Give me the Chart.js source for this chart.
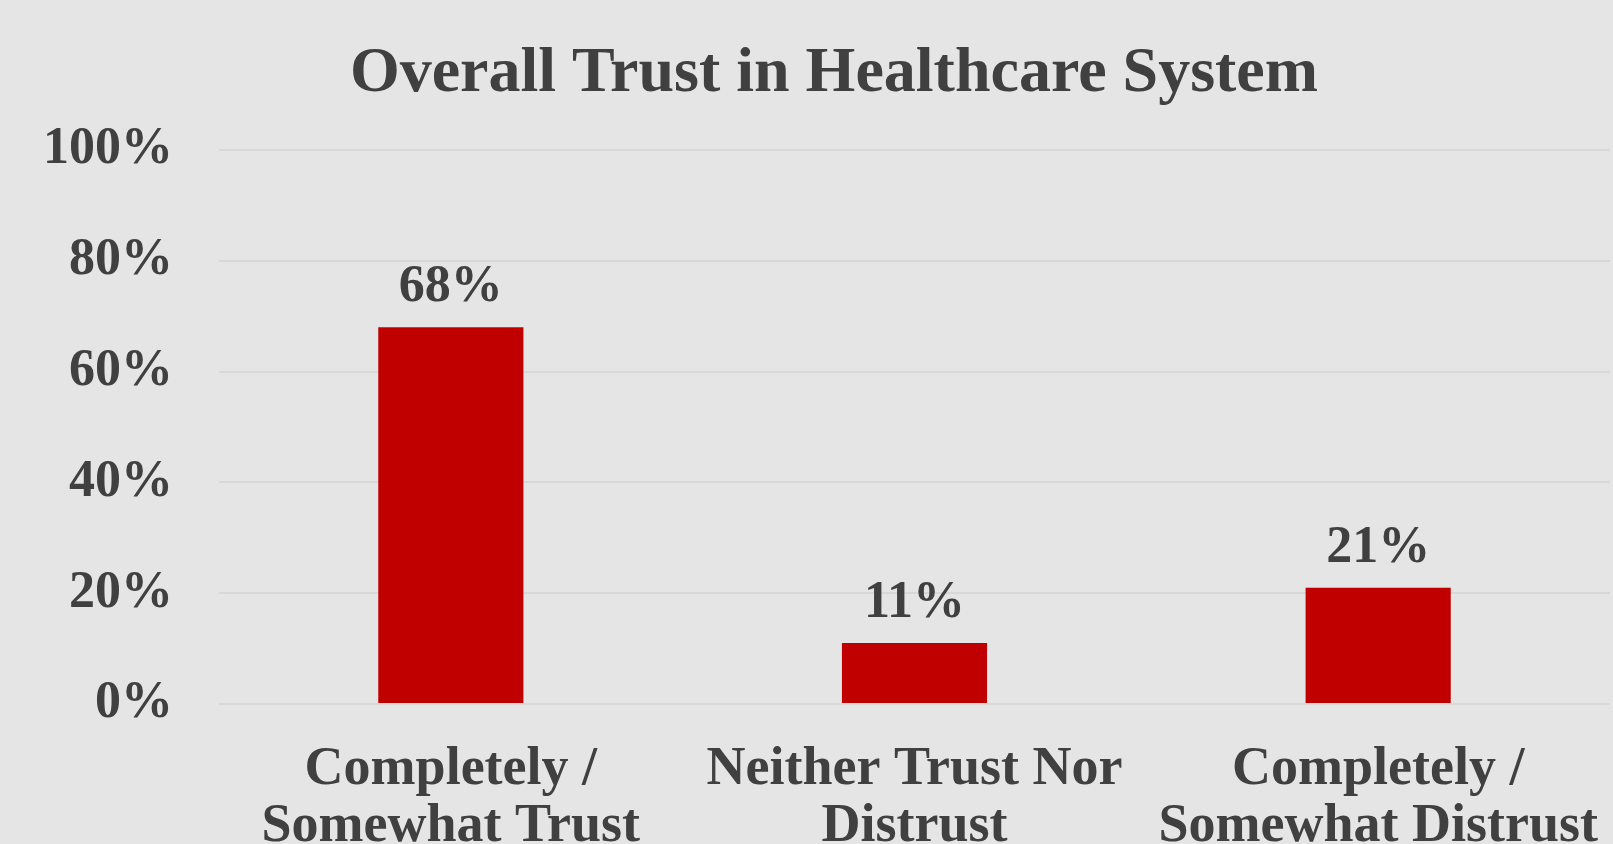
<!DOCTYPE html>
<html>
<head>
<meta charset="utf-8">
<script src="https://cdn.jsdelivr.net/npm/chart.js@4"></script>
<style>
  html, body { margin: 0; padding: 0; background: #e5e5e5; overflow: hidden; }
  #wrap { width: 1613px; height: 852px; }
</style>
</head>
<body>
<div id="wrap"><canvas id="graphCanvasTrust"></canvas></div>
<script>
var categories = [
    ['Completely /', 'Somewhat Trust'],
    ['Neither Trust Nor', 'Distrust'],
    ['Completely /', 'Somewhat Distrust']
];
var trustValues = [68, 11, 21];
var yTicks = [0, 20, 40, 60, 80, 100];

var textColor = '#404040';
var fontFamily = '"Liberation Serif", "Times New Roman", serif';

// value labels above bars
var barLabels = {
    id: 'barLabels',
    afterLayout: function (chart) {
        // title sits a bit right of the canvas centre
        if (chart.titleBlock) chart.titleBlock.left = 58;
    },
    afterDatasetsDraw: function (chart) {
        var ctx = chart.ctx;
        var meta = chart.getDatasetMeta(0);
        ctx.save();
        ctx.font = 'bold 52px ' + fontFamily;
        ctx.fillStyle = textColor;
        ctx.textAlign = 'center';
        ctx.textBaseline = 'alphabetic';
        meta.data.forEach(function (bar, i) {
            ctx.fillText(trustValues[i] + '%', bar.x, bar.y - 26);
        });
        ctx.restore();
    }
};

showGraphTrust();

function showGraphTrust() {
    var chartdata = {
        labels: categories,
        datasets: [{
            label: 'Trust',
            backgroundColor: '#c00000',
            borderWidth: 0,
            data: trustValues,
            categoryPercentage: 1,
            barPercentage: 0.313
        }]
    };

    new Chart(document.getElementById('graphCanvasTrust'), {
        type: 'bar',
        data: chartdata,
        plugins: [barLabels],
        options: {
            responsive: true,
            maintainAspectRatio: false,
            animation: false,
            layout: { padding: { left: 0, right: 3, top: 0, bottom: 0 } },
            plugins: {
                legend: { display: false },
                tooltip: { enabled: false },
                title: {
                    display: true,
                    text: 'Overall Trust in Healthcare System',
                    color: textColor,
                    font: { family: fontFamily, size: 64, weight: 'bold', lineHeight: 1.2 },
                    padding: { top: 36, bottom: 37.2 }
                }
            },
            scales: {
                x: {
                    afterFit: function (scale) {
                        scale.height = 148;
                        scale.paddingLeft = 0;
                        scale.paddingRight = 0;
                    },
                    grid: { display: false },
                    border: { display: false },
                    ticks: {
                        color: textColor,
                        font: { family: fontFamily, size: 54, weight: 'bold', lineHeight: 1.06 },
                        padding: 29,
                        maxRotation: 0,
                        autoSkip: false
                    }
                },
                y: {
                    min: 0,
                    max: 100,
                    afterBuildTicks: function (scale) {
                        scale.ticks = yTicks.map(function (v) { return { value: v }; });
                    },
                    afterFit: function (scale) {
                        scale.width = 219;
                        scale.paddingTop = 0;
                        scale.paddingBottom = 0;
                    },
                    grid: { color: '#d8d8d8', lineWidth: 2, drawTicks: false },
                    border: { display: false },
                    ticks: {
                        color: textColor,
                        font: { family: fontFamily, size: 52, weight: 'bold' },
                        padding: 46,
                        callback: function (v) { return v + '%'; }
                    }
                }
            }
        }
    });
}
</script>
</body>
</html>
